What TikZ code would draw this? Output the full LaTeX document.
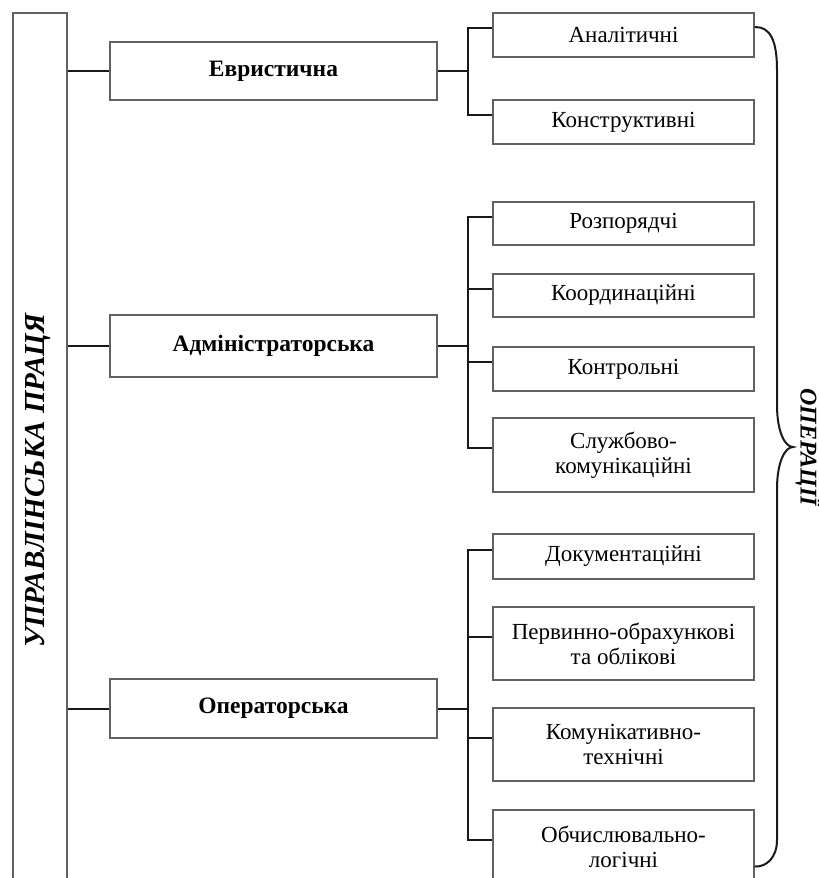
\documentclass[tikz,border=0pt]{standalone}
\usepackage{fontspec}
\setmainfont{Liberation Serif}
\usetikzlibrary{calc}
\begin{document}
\begin{tikzpicture}[x=1pt,y=-1pt,
  box/.style={draw=black!62, line width=2.6pt, inner sep=0pt, align=center,
    font=\fontsize{23}{25}\selectfont},
  lvl/.style={box, minimum width=327pt, font=\fontsize{23.5}{25}\selectfont\bfseries},
  leaf/.style={box, minimum width=261pt, minimum height=44pt},
  leaftwo/.style={box, minimum width=261pt, minimum height=73pt},
  conn/.style={draw=black!90, line width=2pt},
  bracel/.style={draw=black!90, line width=2pt, line cap=round},
  vlabel/.style={font=\fontsize{29}{30}\selectfont\bfseries\itshape}
]
\useasboundingbox (0,0) rectangle (819,878);
\clip (0,0) rectangle (819,878);

% main box
\node[box, minimum width=54pt, minimum height=872pt] (main) at (40,449) {};
\node[vlabel, rotate=90] (mainlbl) at (38,481) {УПРАВЛІНСЬКА ПРАЦЯ};

% level 2
\node[lvl, minimum height=58pt] (ev) at (273.5,71) {Евристична};
\node[lvl, minimum height=62pt] (adm) at (273.5,346) {Адміністраторська};
\node[lvl, minimum height=59pt] (op) at (273.5,708.5) {Операторська};

% leaves
\node[leaf] (a1) at (623.5,35) {Аналітичні};
\node[leaf] (a2) at (623.5,122) {Конструктивні};
\node[leaf, minimum height=43pt] (b1) at (623.5,223.5) {Розпорядчі};
\node[leaf, minimum height=43pt] (b2) at (623.5,295.5) {Координаційні};
\node[leaf] (b3) at (623.5,369) {Контрольні};
\node[leaftwo, minimum height=74pt] (b4) at (623.5,455) {Службово-\\комунікаційні};
\node[leaf, minimum height=45pt] (c1) at (623.5,556.5) {Документаційні};
\node[leaftwo] (c2) at (623.5,643.5) {Первинно-обрахункові\\та облікові};
\node[leaftwo] (c3) at (623.5,744.5) {Комунікативно-\\технічні};
\node[leaftwo] (c4) at (623.5,846.5) {Обчислювально-\\логічні};

% connection points
\foreach \n in {a1,a2,b1,b2,b3,b4,c1,c2,c3,c4}{
  \coordinate (p\n) at ([yshift=7pt]\n.west);
}
\coordinate (jA) at ([xshift=30pt]ev.east);
\coordinate (jB) at ([xshift=30pt]adm.east);
\coordinate (jC) at ([xshift=30pt]op.east);

% main to level 2
\draw[conn] (main.east |- ev.west) -- (ev.west);
\draw[conn] (main.east |- adm.west) -- (adm.west);
\draw[conn] (main.east |- op.west) -- (op.west);

% group A
\draw[conn] (ev.east) -- (jA);
\draw[conn] (pa1) -| (jA |- pa2) -- (pa2);
% group B
\draw[conn] (adm.east) -- (jB);
\draw[conn] (pb1) -| (jB |- pb4) -- (pb4);
\draw[conn] (jB |- pb2) -- (pb2);
\draw[conn] (jB |- pb3) -- (pb3);
% group C
\draw[conn] (op.east) -- (jC);
\draw[conn] (pc1) -| (jC |- pc4) -- (pc4);
\draw[conn] (jC |- pc2) -- (pc2);
\draw[conn] (jC |- pc3) -- (pc3);

% brace
\coordinate (bs) at ([yshift=8pt]a1.east);
\coordinate (be) at ([yshift=-20pt]c4.east);
\coordinate (tip) at (793,447);
\draw[bracel] (bs) .. controls (770,27) and (777,40) .. (777,70)
  -- (777,405) .. controls (777,432) and (785,447) .. (tip)
  .. controls (785,447) and (777,462) .. (777,489)
  -- (777,840) .. controls (777,858) and (766,867) .. (be);
\node[vlabel, font=\fontsize{24}{27}\selectfont\bfseries\itshape, rotate=-90] (oplbl) at (808,447) {ОПЕРАЦІЇ};
\end{tikzpicture}
\end{document}
